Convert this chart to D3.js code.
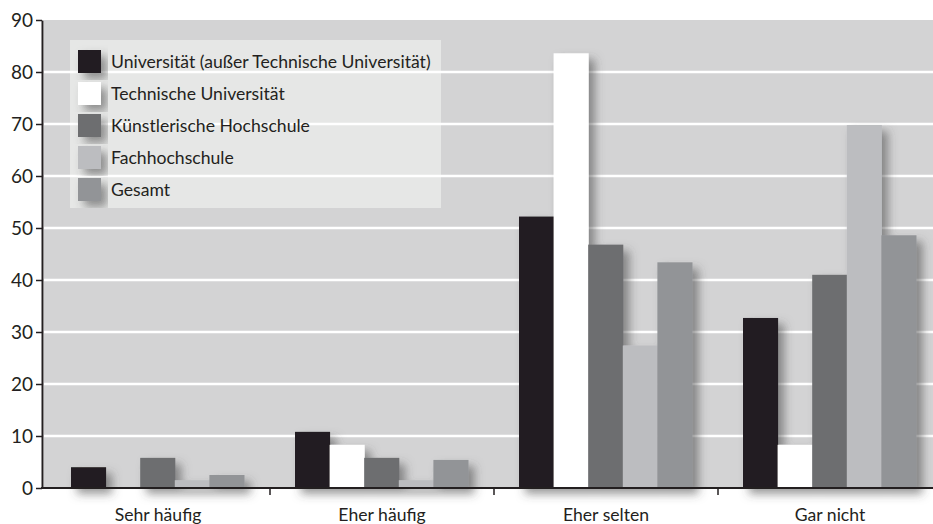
<!DOCTYPE html>
<html><head><meta charset="utf-8">
<script src="https://cdn.jsdelivr.net/npm/d3@7/dist/d3.min.js"></script>
<style>body{margin:0;background:#fff}svg{display:block}</style>
</head><body>
<svg id="c" width="933" height="524"></svg>
<script>
const categories = ["Sehr häufig", "Eher häufig", "Eher selten", "Gar nicht"];
const seriesNames = ["Universität (außer Technische Universität)", "Technische Universität", "Künstlerische Hochschule", "Fachhochschule", "Gesamt"];
const universitaet = [4.0, 10.8, 52.2, 32.7];
const technische = [0, 8.3, 83.6, 8.3];
const kuenstlerische = [5.8, 5.8, 46.8, 41.0];
const fachhochschule = [1.5, 1.5, 27.4, 69.8];
const gesamt = [2.5, 5.4, 43.4, 48.6];
const yTicks = [0, 10, 20, 30, 40, 50, 60, 70, 80, 90];
const colors = ["#231f20", "#ffffff", "#6d6e70", "#bcbdc0", "#929497"];

const seriesValues = [universitaet, technische, kuenstlerische, fachhochschule, gesamt];
const font = "Lato, 'Open Sans', sans-serif";

const svg = d3.select("#c");
const defs = svg.append("defs");
const f = defs.append("filter").attr("id", "sh").attr("x", "-20%").attr("y", "-20%").attr("width", "150%").attr("height", "150%");
f.append("feDropShadow").attr("dx", 6).attr("dy", 6).attr("stdDeviation", 5).attr("flood-color", "#444").attr("flood-opacity", 0.55);

const x = d3.scaleBand().domain(categories).range([46, 942]).padding(0);
const x1 = d3.scaleBand().domain(seriesNames).range([25, 198]).padding(0);
const y = d3.scaleLinear().domain([0, 90]).range([488, 20]);

// plot background
svg.append("rect").attr("x", 44).attr("y", y(90)).attr("width", 933 - 44).attr("height", y(0) - y(90)).attr("fill", "#d3d3d4");

// legend box
svg.append("rect").attr("x", 70).attr("y", 40).attr("width", 371).attr("height", 168).attr("fill", "#e6e7e6");

// gridlines
svg.append("g").selectAll("line").data(yTicks.filter(t => t > 0 && t < 90)).join("line")
  .attr("x1", 44).attr("x2", 933).attr("y1", d => y(d)).attr("y2", d => y(d))
  .attr("stroke", "#ffffff").attr("stroke-width", 2.5);

// legend items
const li = svg.append("g").selectAll("g").data(seriesNames).join("g")
  .attr("transform", (d, i) => `translate(78,${50 + i * 32})`);
li.append("rect").attr("width", 23).attr("height", 23).attr("fill", (d, i) => colors[i]).attr("filter", "url(#sh)");
li.append("text").attr("x", 33).attr("y", 12).attr("dy", "0.35em").text(d => d)
  .attr("font-family", font).attr("font-size", 17.6).attr("fill", "#231f20");

// bars
const bars = svg.append("g").attr("filter", "url(#sh)");
categories.forEach((c, ci) => {
  seriesNames.forEach((s, si) => {
    const v = seriesValues[si][ci];
    if (v <= 0) return;
    bars.append("rect").attr("x", x(c) + x1(s)).attr("width", x1.bandwidth() + 0.5)
      .attr("y", y(v)).attr("height", y(0) - y(v)).attr("fill", colors[si]);
  });
});

// y axis
const ya = svg.append("g").attr("transform", "translate(42,0)")
  .call(d3.axisLeft(y).tickValues(yTicks).tickSize(6).tickSizeOuter(0).tickPadding(3));
ya.select(".domain").attr("stroke", "#231f20").attr("stroke-width", 2);
ya.selectAll(".tick line").attr("stroke", "#231f20").attr("stroke-width", 1.5);
ya.selectAll("text").attr("font-family", font).attr("font-size", 19).attr("fill", "#231f20");

// x axis
svg.append("line").attr("x1", 41).attr("x2", 933).attr("y1", y(0)).attr("y2", y(0)).attr("stroke", "#231f20").attr("stroke-width", 2);
svg.append("g").selectAll("line").data(categories.slice(1)).join("line")
  .attr("x1", d => x(d)).attr("x2", d => x(d)).attr("y1", y(0)).attr("y2", y(0) + 7)
  .attr("stroke", "#231f20").attr("stroke-width", 1.5);
const xa = svg.append("g").attr("transform", `translate(0,${y(0)})`)
  .call(d3.axisBottom(x).tickSize(0).tickPadding(21));
xa.select(".domain").remove();
xa.selectAll("text").attr("font-family", font).attr("font-size", 17.6).attr("fill", "#231f20");
</script>
</body></html>
